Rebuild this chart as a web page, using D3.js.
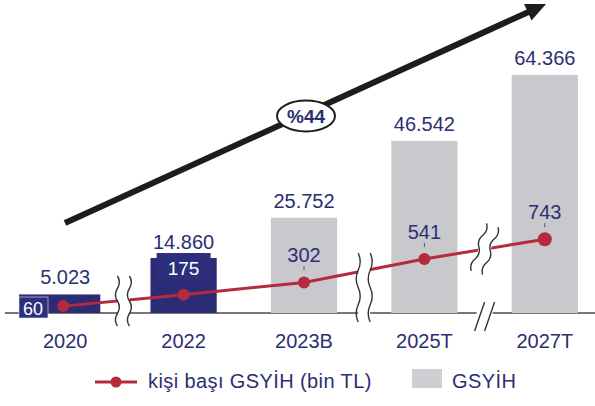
<!DOCTYPE html>
<html><head><meta charset="utf-8">
<script src="https://cdn.jsdelivr.net/npm/d3@7"></script>
<style>html,body{margin:0;padding:0;background:#fff}svg{display:block}</style>
</head><body>
<script>
const categories = ["2020", "2022", "2023B", "2025T", "2027T"];
const gdpValues = [5023, 14860, 25752, 46542, 64366];
const gdpLabels = ["5.023", "14.860", "25.752", "46.542", "64.366"];
const perCapita = [60, 175, 302, 541, 743];
const growthLabel = "%44";
const legendLine = "kişi başı GSYİH (bin TL)";
const legendBar = "GSYİH";

const W = 595, H = 406;
const navy = "#2b2b76", gray = "#c9c9cd", red = "#b52a3c", textNavy = "#2b2f72";
const font = "'Liberation Sans', Arial, sans-serif";

const svg = d3.select("body").append("svg").attr("width", W).attr("height", H)
  .style("font-family", font);

const x = d3.scaleBand().domain(categories).range([3, 605]).paddingInner(0.45).paddingOuter(0.225);
const yBar = d3.scaleLinear().domain([0, 70000]).range([313, 313 - 70000 * 0.003698]);
const yLine = d3.scaleLinear().domain([0, 1000]).range([312, 214]);
const bw = x.bandwidth();
const cx = d => x(d) + bw / 2;

// Arrow
const ax0 = 65, ay0 = 223, ax1 = 546, ay1 = 4;
const ang = Math.atan2(ay1 - ay0, ax1 - ax0);
const hl = 20, hw = 9;
const bx = ax1 - hl * Math.cos(ang), by = ay1 - hl * Math.sin(ang);
svg.append("line").attr("x1", ax0).attr("y1", ay0).attr("x2", bx + 2 * Math.cos(ang)).attr("y2", by + 2 * Math.sin(ang))
  .attr("stroke", "#1d1d1d").attr("stroke-width", 6);
svg.append("polygon").attr("fill", "#1d1d1d").attr("points", [
  [ax1, ay1],
  [bx + hw * Math.sin(ang), by - hw * Math.cos(ang)],
  [bx - hw * Math.sin(ang), by + hw * Math.cos(ang)]
].map(p => p.join(",")).join(" "));
// Ellipse label
const ex = 306, ey = 116;
svg.append("ellipse").attr("cx", ex).attr("cy", ey).attr("rx", 29).attr("ry", 15.5)
  .attr("fill", "#fff").attr("stroke", "#1d1d1d").attr("stroke-width", 2);
svg.append("text").attr("x", ex).attr("y", ey + 7).attr("text-anchor", "middle")
  .attr("font-size", 19).attr("font-weight", "bold").attr("fill", textNavy).text(growthLabel);

// Axis line
svg.append("line").attr("x1", 5).attr("x2", 595).attr("y1", 313).attr("y2", 313)
  .attr("stroke", "#4a4a4a").attr("stroke-width", 1.5);

// Bars
svg.selectAll("rect.bar").data(categories).join("rect").attr("class", "bar")
  .attr("x", (d, i) => i === 0 ? x(d) - 11 : x(d))
  .attr("width", (d, i) => i === 0 ? bw + 15 : bw)
  .attr("y", (d, i) => yBar(gdpValues[i]))
  .attr("height", (d, i) => yBar(0) - yBar(gdpValues[i]))
  .attr("fill", (d, i) => i < 2 ? navy : gray);

// Bar value labels
svg.selectAll("text.val").data(categories).join("text").attr("class", "val")
  .attr("x", d => cx(d) + (d === "2020" ? 2 : 0))
  .attr("y", (d, i) => yBar(gdpValues[i]) - (i === 1 ? 9 : 10))
  .attr("text-anchor", "middle").attr("font-size", 20).attr("fill", textNavy)
  .text((d, i) => gdpLabels[i]);

// Year labels
svg.selectAll("text.cat").data(categories).join("text").attr("class", "cat")
  .attr("x", d => cx(d) + (d === "2020" ? 2 : 0)).attr("y", 348)
  .attr("text-anchor", "middle").attr("font-size", 20).attr("fill", textNavy)
  .text(d => d);

// Label boxes for inside labels
svg.append("rect").attr("x", cx("2022") - 27).attr("y", 253).attr("width", 54).attr("height", 26).attr("fill", "#2c2f7c");
svg.append("rect").attr("x", 19).attr("y", 297).attr("width", 29).attr("height", 21).attr("fill", "#2c2f7c")
  .attr("stroke", "#e8e8f0").attr("stroke-width", 0.6);

// Break marks
function wavy(xc, y0, y1) {
  const n = 4, seg = (y1 - y0) / n;
  let p = `M${xc},${y0}`;
  for (let k = 0; k < n; k++) {
    const s = k % 2 === 0 ? 1 : -1;
    p += ` Q${xc + 4 * s},${y0 + seg * (k + 0.5)} ${xc},${y0 + seg * (k + 1)}`;
  }
  return p;
}
function breakMark(xm, y0, y1, slant) {
  const g = svg.append("g").attr("transform", slant ? `translate(${xm},${(y0 + y1) / 2}) rotate(18) translate(${-xm},${-(y0 + y1) / 2})` : null);
  g.append("rect").attr("x", xm - 6).attr("y", y0).attr("width", 12).attr("height", y1 - y0).attr("fill", "#fff");
  g.append("path").attr("d", wavy(xm - 6, y0, y1)).attr("fill", "none").attr("stroke", "#333").attr("stroke-width", 1.4);
  g.append("path").attr("d", wavy(xm + 6, y0, y1)).attr("fill", "none").attr("stroke", "#333").attr("stroke-width", 1.4);
}
const mid = (a, b) => (cx(a) + cx(b)) / 2;

// Line (drawn before breaks so breaks cut it)
const line = d3.line().x(d => cx(d.c)).y(d => yLine(d.v));
const pts = categories.map((c, i) => ({ c, v: perCapita[i] }));
svg.append("path").datum(pts).attr("d", line).attr("fill", "none").attr("stroke", red).attr("stroke-width", 3);

breakMark(mid("2020", "2022"), 276, 326, false);
breakMark(mid("2023B", "2025T"), 253, 322, false);
breakMark(mid("2025T", "2027T"), 224, 274, true);
// axis break "//"
{
  const xm = mid("2025T", "2027T");
  svg.append("rect").attr("x", xm - 8).attr("y", 308).attr("width", 16).attr("height", 10).attr("fill", "#fff");
  [-5, 5].forEach(o => svg.append("line").attr("x1", xm + o - 5).attr("y1", 331).attr("x2", xm + o + 5).attr("y2", 302)
    .attr("stroke", "#333").attr("stroke-width", 1.4));
}

svg.selectAll("circle.pt").data(pts).join("circle").attr("class", "pt")
  .attr("cx", d => cx(d.c)).attr("cy", d => yLine(d.v)).attr("r", (d, i) => i === 4 ? 7 : 6).attr("fill", red);

// Line labels
pts.forEach((d, i) => {
  if (i === 0) {
    svg.append("text").attr("x", 33).attr("y", 315).attr("text-anchor", "middle")
      .attr("font-size", 18).attr("fill", "#fff").text(d.v);
  } else if (i === 1) {
    svg.append("text").attr("x", cx(d.c)).attr("y", 275).attr("text-anchor", "middle")
      .attr("font-size", 19).attr("fill", "#fff").text(d.v);
  } else {
    svg.append("text").attr("x", cx(d.c)).attr("y", yLine(d.v) - 20).attr("text-anchor", "middle")
      .attr("font-size", 20).attr("fill", textNavy).text(d.v);
    svg.append("line").attr("x1", cx(d.c)).attr("x2", cx(d.c)).attr("y1", yLine(d.v) - 16).attr("y2", yLine(d.v) - 12)
      .attr("stroke", textNavy).attr("stroke-width", 0.8);
  }
});

// Legend
svg.append("line").attr("x1", 95).attr("x2", 137).attr("y1", 382).attr("y2", 382).attr("stroke", red).attr("stroke-width", 3);
svg.append("circle").attr("cx", 116).attr("cy", 382).attr("r", 5.5).attr("fill", red);
svg.append("text").attr("x", 148).attr("y", 388).attr("font-size", 20).attr("letter-spacing", 0.4)
  .attr("fill", textNavy).text(legendLine);
svg.append("rect").attr("x", 412).attr("y", 369).attr("width", 30).attr("height", 19).attr("fill", "#cfcfd3");
svg.append("text").attr("x", 452).attr("y", 388).attr("font-size", 20).attr("letter-spacing", 0.4)
  .attr("fill", textNavy).text(legendBar);
</script>
</body></html>
